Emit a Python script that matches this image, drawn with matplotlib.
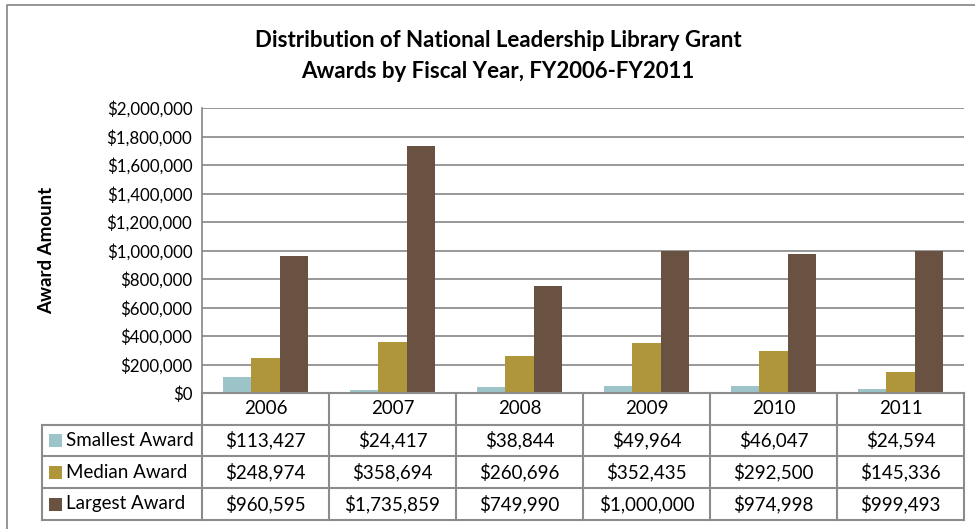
import matplotlib
matplotlib.use("Agg")
import matplotlib.pyplot as plt
from matplotlib.patches import Rectangle
from matplotlib.lines import Line2D
import numpy as np

plt.rcParams['font.family'] = ['Lato', 'DejaVu Sans']

years = ["2006", "2007", "2008", "2009", "2010", "2011"]
series_names = ["Smallest Award", "Median Award", "Largest Award"]
smallest = [113427, 24417, 38844, 49964, 46047, 24594]
median = [248974, 358694, 260696, 352435, 292500, 145336]
largest = [960595, 1735859, 749990, 1000000, 974998, 999493]
colors = ["#9DC4C9", "#B0963A", "#6A5243"]
title_lines = ["Distribution of National Leadership Library Grant",
               "Awards by Fiscal Year, FY2006-FY2011"]
ylabel = "Award Amount"
yticks = np.arange(0, 2000001, 200000)

W, H = 975, 529
fig = plt.figure(figsize=(W/100, H/100), dpi=100)

def fx(px): return px/W
def fy(py): return 1-py/H

# outer border (only left/top visible in reference)
fig.add_artist(Line2D([fx(7), fx(7), fx(990)], [fy(540), fy(5), fy(5)], color="#8C8C8C", lw=1.3))

L, R, T, B = 202, 964, 108, 393
ax = fig.add_axes([L/W, 1-B/H, (R-L)/W, (B-T)/H])
n = len(years)
x = np.arange(n)
bw = 0.223
series = [smallest, median, largest]
for i, (vals, c) in enumerate(zip(series, colors)):
    ax.bar(x + (i-1)*bw, vals, width=bw, color=c, zorder=3)

ax.set_xlim(-0.5, n-0.5)
ax.set_ylim(0, 2000000)
ax.set_yticks(yticks)
ax.set_yticklabels([f"${v:,.0f}" for v in yticks], fontsize=12.2)
ax.set_xticks([])
ax.grid(axis='y', color="#868686", lw=1.2, zorder=0)
for s in ["top", "right", "bottom"]:
    ax.spines[s].set_visible(False)
ax.spines["left"].set_color("#868686")
ax.spines["left"].set_linewidth(1.2)
ax.tick_params(axis='y', length=0, pad=7)

fig.text(fx(47), fy((T+B)/2), ylabel, rotation=90, ha='center', va='center',
         fontsize=13.5, fontweight='bold')

fig.text(fx(498), fy(40), title_lines[0], ha='center', va='center', fontsize=16, fontweight='bold')
fig.text(fx(498), fy(72), title_lines[1], ha='center', va='center', fontsize=16, fontweight='bold')

# data table
gc = "#8C8C8C"
col_w = (R-L)/n
row_y = [393, 425, 456, 488, 520]
tl = 42
fig.add_artist(Line2D([fx(L), fx(R)], [fy(393), fy(393)], color=gc, lw=1.5))
for yy in row_y[1:]:
    fig.add_artist(Line2D([fx(tl), fx(R)], [fy(yy), fy(yy)], color=gc, lw=1.5))
fig.add_artist(Line2D([fx(tl), fx(tl)], [fy(425), fy(520)], color=gc, lw=1.5))
for j in range(n+1):
    xx = L + j*col_w
    fig.add_artist(Line2D([fx(xx), fx(xx)], [fy(393), fy(520)], color=gc, lw=1.5))
for j, yr in enumerate(years):
    fig.text(fx(L + (j+0.5)*col_w), fy((393+425)/2), yr, ha='center', va='center', fontsize=13.5)
for r, (name, vals, c) in enumerate(zip(series_names, series, colors)):
    yc = (row_y[r+1] + row_y[r+2]) / 2
    fig.patches.append(Rectangle((fx(49), fy(yc+6.5)), 13/W, 13/H, transform=fig.transFigure,
                                 facecolor=c, edgecolor='none'))
    fig.text(fx(66), fy(yc), name, ha='left', va='center', fontsize=13.5)
    for j, v in enumerate(vals):
        fig.text(fx(L + (j+0.5)*col_w), fy(yc), f"${v:,.0f}", ha='center', va='center', fontsize=13.5)

fig.savefig("out.png", dpi=100)
